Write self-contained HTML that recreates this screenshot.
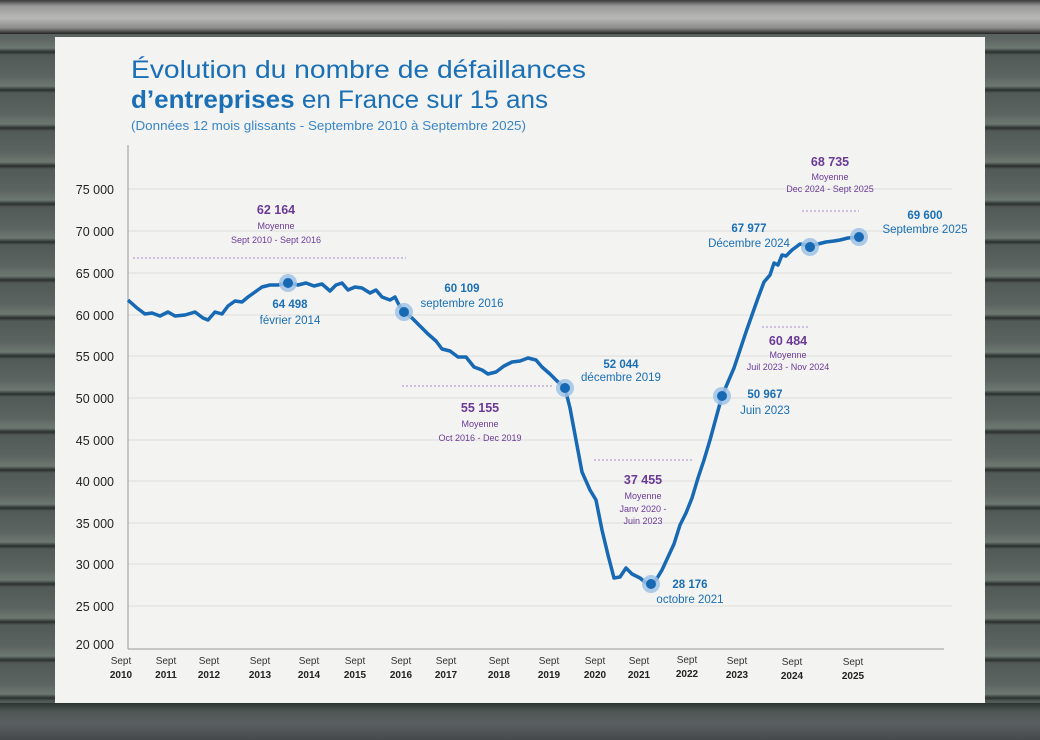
<!DOCTYPE html>
<html><head><meta charset="utf-8"><style>
html,body{margin:0;padding:0}
body{width:1040px;height:740px;overflow:hidden;position:relative;font-family:"Liberation Sans","DejaVu Sans",sans-serif;
background:repeating-linear-gradient(180deg,#5b6460 0px,#6e7873 10px,#2a302e 14px,#525a57 17px,#5b6460 38px);}
#top{position:absolute;left:0;top:0;width:1040px;height:34px;background:linear-gradient(180deg,#3a3a3a 0,#9a9a9a 6px,#b8b8b6 18px,#8c8c8a 28px,#222 34px)}
#bot{position:absolute;left:0;top:703px;width:1040px;height:37px;background:linear-gradient(180deg,#2c3432 0,#4d5553 8px,#5a5f60 20px,#45494c 37px)}
svg{position:absolute;left:0;top:0}
</style></head><body>
<div id="top"></div><div id="bot"></div>
<svg width="1040" height="740" viewBox="0 0 1040 740">
<rect x="55" y="37" width="930" height="666" fill="#f3f3f2"/>
<g font-family="Liberation Sans, DejaVu Sans, sans-serif">
<text x="131" y="78" font-size="25" fill="#1a6fb5" textLength="455" lengthAdjust="spacingAndGlyphs">Évolution du nombre de défaillances</text>
<text x="131" y="108" font-size="25" fill="#1a6fb5" textLength="417" lengthAdjust="spacingAndGlyphs"><tspan font-weight="bold">d’entreprises</tspan> en France sur 15 ans</text>
<text x="131" y="130" font-size="12.5" fill="#3a86c6" textLength="395" lengthAdjust="spacingAndGlyphs">(Données 12 mois glissants - Septembre 2010 à Septembre 2025)</text>
<g stroke="#dcdcdc" stroke-width="1">
<line x1="128" y1="189" x2="952" y2="189"/><line x1="128" y1="231" x2="952" y2="231"/><line x1="128" y1="273" x2="952" y2="273"/><line x1="128" y1="315" x2="952" y2="315"/><line x1="128" y1="356" x2="952" y2="356"/><line x1="128" y1="398" x2="952" y2="398"/><line x1="128" y1="440" x2="952" y2="440"/><line x1="128" y1="481" x2="952" y2="481"/><line x1="128" y1="523" x2="952" y2="523"/><line x1="128" y1="564" x2="952" y2="564"/><line x1="128" y1="606" x2="952" y2="606"/>
</g>
<line x1="128" y1="145" x2="128" y2="649" stroke="#999"/>
<line x1="128" y1="649" x2="944" y2="649" stroke="#999"/>
<g font-size="12.5" fill="#222" text-anchor="end">
<text x="114" y="194">75 000</text><text x="114" y="236">70 000</text><text x="114" y="278">65 000</text><text x="114" y="320">60 000</text><text x="114" y="361">55 000</text><text x="114" y="403">50 000</text><text x="114" y="445">45 000</text><text x="114" y="486">40 000</text><text x="114" y="528">35 000</text><text x="114" y="569">30 000</text><text x="114" y="611">25 000</text><text x="114" y="649">20 000</text>
</g>
<g font-size="10" fill="#333" text-anchor="middle">
<text x="121" y="664">Sept</text><text x="166" y="664">Sept</text><text x="209" y="664">Sept</text><text x="260" y="664">Sept</text><text x="309" y="664">Sept</text><text x="355" y="664">Sept</text><text x="401" y="664">Sept</text><text x="446" y="664">Sept</text><text x="499" y="664">Sept</text><text x="549" y="664">Sept</text><text x="595" y="664">Sept</text><text x="639" y="664">Sept</text><text x="687" y="663">Sept</text><text x="737" y="664">Sept</text><text x="792" y="665">Sept</text><text x="853" y="665">Sept</text>
</g>
<g font-size="10" font-weight="bold" fill="#222" text-anchor="middle">
<text x="121" y="678">2010</text><text x="166" y="678">2011</text><text x="209" y="678">2012</text><text x="260" y="678">2013</text><text x="309" y="678">2014</text><text x="355" y="678">2015</text><text x="401" y="678">2016</text><text x="446" y="678">2017</text><text x="499" y="678">2018</text><text x="549" y="678">2019</text><text x="595" y="678">2020</text><text x="639" y="678">2021</text><text x="687" y="677">2022</text><text x="737" y="678">2023</text><text x="792" y="679">2024</text><text x="853" y="679">2025</text>
</g>
<polyline fill="none" stroke="#1769b3" stroke-width="3.5" stroke-linejoin="round" points="128,300 137,308 145,314 152,313 160,316 168,312 175,316 185,315 195,312 203,318 208,320 215,312 222,314 228,306 235,301 242,302 248,297 255,292 262,287 270,285 278,285 288,283 298,285 306,283 314,286 322,284 330,291 336,285 342,283 348,290 355,287 362,288 370,293 376,290 382,297 390,300 395,297 399,305 404,312 412,318 420,326 428,334 436,341 442,349 450,351 458,357 466,357 474,367 482,370 488,374 496,372 504,366 512,362 520,361 528,358 536,360 542,367 550,374 557,381 565,388 570,408 576,440 582,472 590,490 596,500 602,530 608,555 614,578 620,577 626,568 632,574 640,578 646,583 651,584 656,580 662,570 668,557 674,544 680,525 686,513 692,498 698,478 704,460 710,440 716,418 722,396 728,382 734,368 740,350 746,332 752,315 758,298 764,282 770,275 774,263 778,265 782,255 786,256 792,250 800,244 810,246 818,244 826,242 834,241 840,240 848,238 858,237"/>
<g fill="#9fc3e6" opacity="0.85"><circle cx="288" cy="283" r="9"/><circle cx="404" cy="312" r="9"/><circle cx="565" cy="388" r="9"/><circle cx="651" cy="584" r="9"/><circle cx="722" cy="396" r="9"/><circle cx="810" cy="247" r="9"/><circle cx="859" cy="237" r="9"/></g>
<g fill="#1769b3"><circle cx="288" cy="283" r="5"/><circle cx="404" cy="312" r="5"/><circle cx="565" cy="388" r="5"/><circle cx="651" cy="584" r="5"/><circle cx="722" cy="396" r="5"/><circle cx="810" cy="247" r="5"/><circle cx="859" cy="237" r="5"/></g>
<g fill="#1a6fb5" font-size="11.5" text-anchor="middle">
<text x="290" y="308" font-weight="bold">64 498</text><text x="290" y="324">février 2014</text>
<text x="462" y="292" font-weight="bold">60 109</text><text x="462" y="307">septembre 2016</text>
<text x="621" y="368" font-weight="bold">52 044</text><text x="621" y="381">décembre 2019</text>
<text x="690" y="588" font-weight="bold">28 176</text><text x="690" y="603">octobre 2021</text>
<text x="765" y="398" font-weight="bold">50 967</text><text x="765" y="414">Juin 2023</text>
<text x="749" y="232" font-weight="bold">67 977</text><text x="749" y="247">Décembre 2024</text>
<text x="925" y="219" font-weight="bold">69 600</text><text x="925" y="233">Septembre 2025</text>
</g>
<g fill="#6a3a96" text-anchor="middle">
<text x="276" y="214" font-size="12.5" font-weight="bold">62 164</text><text x="276" y="229" font-size="9">Moyenne</text><text x="276" y="243" font-size="9">Sept 2010 - Sept 2016</text>
<text x="480" y="412" font-size="12.5" font-weight="bold">55 155</text><text x="480" y="427" font-size="9">Moyenne</text><text x="480" y="441" font-size="9">Oct 2016 - Dec 2019</text>
<text x="643" y="484" font-size="12.5" font-weight="bold">37 455</text><text x="643" y="499" font-size="9">Moyenne</text><text x="643" y="512" font-size="9">Janv 2020 -</text><text x="643" y="524" font-size="9">Juin 2023</text>
<text x="788" y="345" font-size="12.5" font-weight="bold">60 484</text><text x="788" y="358" font-size="9">Moyenne</text><text x="788" y="370" font-size="9">Juil 2023 - Nov 2024</text>
<text x="830" y="166" font-size="12.5" font-weight="bold">68 735</text><text x="830" y="180" font-size="9">Moyenne</text><text x="830" y="192" font-size="9">Dec 2024 - Sept 2025</text>
</g>
<g stroke="#a98cc9" stroke-width="1" stroke-dasharray="2,2">
<line x1="133" y1="258" x2="406" y2="258"/><line x1="402" y1="386" x2="553" y2="386"/><line x1="594" y1="460" x2="692" y2="460"/><line x1="762" y1="327" x2="810" y2="327"/><line x1="802" y1="211" x2="859" y2="211"/>
</g>
</g>
</svg>
</body></html>
